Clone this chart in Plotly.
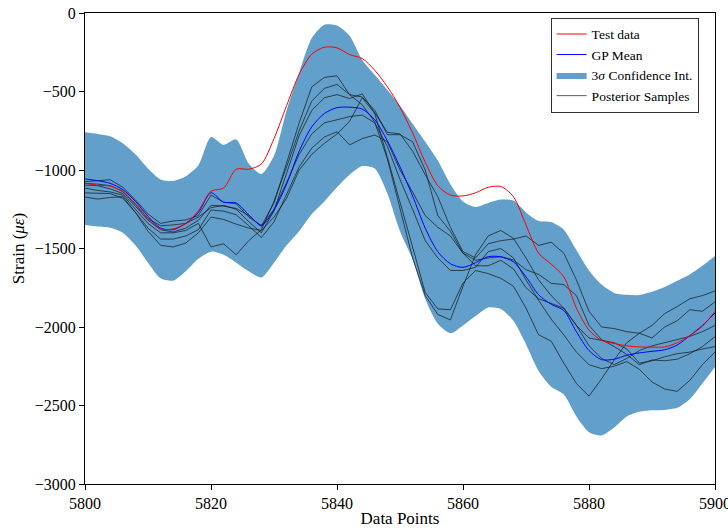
import numpy as np
import plotly.graph_objects as go

# Data points (every 2nd index between 5800 and 5900)
data_points = list(range(5800, 5901, 2))

test_data = [-1083, -1098, -1102, -1140, -1215, -1310, -1375, -1375, -1340, -1260,
             -1135, -1115, -995, -995, -962, -800, -590, -390, -262, -218,
             -222, -265, -290, -365, -470, -600, -764, -950, -1100, -1160,
             -1165, -1145, -1110, -1105, -1170, -1350, -1530, -1600, -1680, -1880,
             -2020, -2085, -2105, -2120, -2127, -2128, -2127, -2100, -2055, -1995, -1900]

gp_mean = [-1057, -1068, -1085, -1125, -1200, -1295, -1370, -1380, -1340, -1270,
           -1145, -1205, -1210, -1285, -1352, -1255, -1090, -880, -725, -640,
           -603, -600, -612, -680, -815, -980, -1165, -1370, -1520, -1597,
           -1620, -1590, -1552, -1553, -1585, -1680, -1795, -1855, -1895, -2030,
           -2150, -2208, -2205, -2180, -2165, -2155, -2145, -2115, -2055, -1990, -1911]

ci_upper = [-760, -770, -785, -830, -900, -990, -1060, -1070, -1040, -970,
            -790, -840, -805, -960, -1026, -910, -620, -380, -160, -75,
            -80, -145, -300, -395, -490, -590, -705, -820, -940, -1090,
            -1200, -1235, -1210, -1188, -1195, -1270, -1325, -1332, -1380, -1510,
            -1640, -1730, -1783, -1795, -1796, -1775, -1745, -1705, -1665, -1610, -1548]

ci_lower = [-1350, -1360, -1368, -1400, -1480, -1590, -1690, -1705, -1645, -1565,
            -1520, -1540, -1590, -1645, -1685, -1590, -1480, -1390, -1280, -1200,
            -1110, -1030, -975, -990, -1150, -1390, -1570, -1820, -1980, -2040,
            -1990, -1930, -1875, -1885, -1960, -2110, -2280, -2380, -2430, -2570,
            -2670, -2690, -2640, -2570, -2540, -2530, -2528, -2515, -2460, -2360, -2255]

sample_1 = [-1074, -1068, -1062, -1110, -1190, -1280, -1340, -1325, -1318, -1290,
            -1160, -1205, -1215, -1300, -1355, -1210, -950, -700, -470, -410,
            -400, -520, -585, -695, -930, -1250, -1560, -1800, -1920, -1955,
            -1740, -1540, -1420, -1385, -1435, -1560, -1700, -1800, -1880, -1990,
            -2120, -2200, -2240, -2200, -2150, -2120, -2100, -2080, -2060, -2030, -1990]

sample_2 = [-1085, -1090, -1100, -1135, -1220, -1310, -1355, -1350, -1340, -1300,
            -1240, -1225, -1250, -1330, -1400, -1260, -1020, -780, -620, -540,
            -520, -545, -515, -640, -760, -770, -880, -1030, -1170, -1365,
            -1520, -1560, -1470, -1450, -1440, -1420, -1480, -1460, -1530, -1700,
            -1900, -2000, -2010, -2030, -2040, -2070, -2000, -1960, -1890, -1900, -1840]

sample_3 = [-1115, -1130, -1140, -1160, -1250, -1340, -1400, -1400, -1385, -1340,
            -1490, -1470, -1540, -1450, -1380, -1200, -980, -750, -560, -480,
            -455, -520, -535, -620, -775, -775, -820, -1000, -1290, -1390,
            -1530, -1575, -1560, -1552, -1573, -1635, -1665, -1722, -1730, -1800,
            -1990, -2080, -2125, -2175, -2240, -2210, -2215, -2205, -2170, -2125, -2061]

sample_4 = [-1146, -1148, -1150, -1180, -1270, -1370, -1440, -1440, -1420, -1380,
            -1255, -1262, -1285, -1355, -1430, -1330, -1150, -980, -860, -790,
            -756, -840, -800, -777, -820, -1000, -1140, -1290, -1365, -1420,
            -1530, -1610, -1610, -1575, -1630, -1750, -1820, -1850, -1880, -1990,
            -2070, -2085, -2100, -2140, -2230, -2215, -2190, -2170, -2160, -2140, -2125]

sample_5 = [-1172, -1185, -1175, -1170, -1270, -1390, -1480, -1490, -1465, -1400,
            -1300, -1315, -1345, -1370, -1385, -1300, -1180, -1000, -900, -830,
            -770, -690, -540, -640, -920, -1200, -1490, -1780, -1885, -1890,
            -1720, -1640, -1660, -1690, -1740, -1880, -2050, -2090, -2230, -2360,
            -2440, -2330, -2210, -2100, -2040, -1990, -1915, -1870, -1820, -1800, -1770]

sample_6 = [-1096, -1100, -1120, -1150, -1230, -1320, -1380, -1395, -1370, -1320,
            -1225, -1230, -1245, -1290, -1360, -1250, -1080, -900, -770, -700,
            -680, -660, -650, -700, -850, -1060, -1250, -1450, -1560, -1640,
            -1640, -1620, -1520, -1500, -1560, -1700, -1830, -1950, -2050, -2160,
            -2240, -2265, -2250, -2220, -2270, -2350, -2395, -2410, -2340, -2240, -2160]

posterior_samples = [sample_1, sample_2, sample_3, sample_4, sample_5, sample_6]

FONT = "Liberation Serif, Times New Roman, serif"
BAND = "rgb(98,160,203)"
SAMPLE_COLOR = "rgba(20,20,20,0.7)"

fig = go.Figure()

# 3-sigma confidence band
fig.add_trace(go.Scatter(
    x=data_points, y=ci_lower, mode="lines", line=dict(width=0, shape="spline", smoothing=0.7),
    showlegend=False, hoverinfo="skip"))
fig.add_trace(go.Scatter(
    x=data_points, y=ci_upper, mode="lines", line=dict(width=0, shape="spline", smoothing=0.7),
    fill="tonexty", fillcolor=BAND, name="3<i>σ</i> Confidence Int.", legendrank=3))

# posterior draws
for i, s in enumerate(posterior_samples):
    fig.add_trace(go.Scatter(
        x=data_points, y=s, mode="lines",
        line=dict(color=SAMPLE_COLOR, width=1),
        name="Posterior Samples",
        showlegend=(i == 0), legendrank=4))

fig.add_trace(go.Scatter(
    x=data_points, y=gp_mean, mode="lines",
    line=dict(color="blue", width=1, shape="spline", smoothing=0.8),
    name="GP Mean", legendrank=2))

fig.add_trace(go.Scatter(
    x=data_points, y=test_data, mode="lines",
    line=dict(color="red", width=1, shape="spline", smoothing=0.8),
    name="Test data", legendrank=1))

axis_common = dict(
    showgrid=False, zeroline=False, showline=True, linecolor="black", linewidth=1,
    mirror=True, ticks="outside", ticklen=5, tickwidth=1, tickcolor="black",
    tickfont=dict(family=FONT, size=16, color="black"),
    ticklabeloverflow="allow", automargin=False,
)

fig.update_xaxes(range=[5800, 5900], dtick=20, tick0=5800,
                 title=dict(text="Data Points", font=dict(family=FONT, size=17, color="black"), standoff=14),
                 **axis_common)
fig.update_yaxes(range=[-3000, 0], dtick=500, tick0=0,
                 title=dict(text="Strain (<i>με</i>)", font=dict(family=FONT, size=17, color="black"), standoff=5),
                 **axis_common)

fig.update_layout(
    width=728, height=528,
    margin=dict(l=85, r=13, t=13, b=44),
    paper_bgcolor="white", plot_bgcolor="white",
    font=dict(family=FONT, size=14, color="black"),
    showlegend=True,
    legend=dict(
        x=0.974, y=0.99, xanchor="right", yanchor="top",
        traceorder="normal",
        bgcolor="white", bordercolor="#333", borderwidth=1,
        font=dict(family=FONT, size=13.5, color="black"),
        itemwidth=30,
    ),
)

fig.write_html("out.html")
